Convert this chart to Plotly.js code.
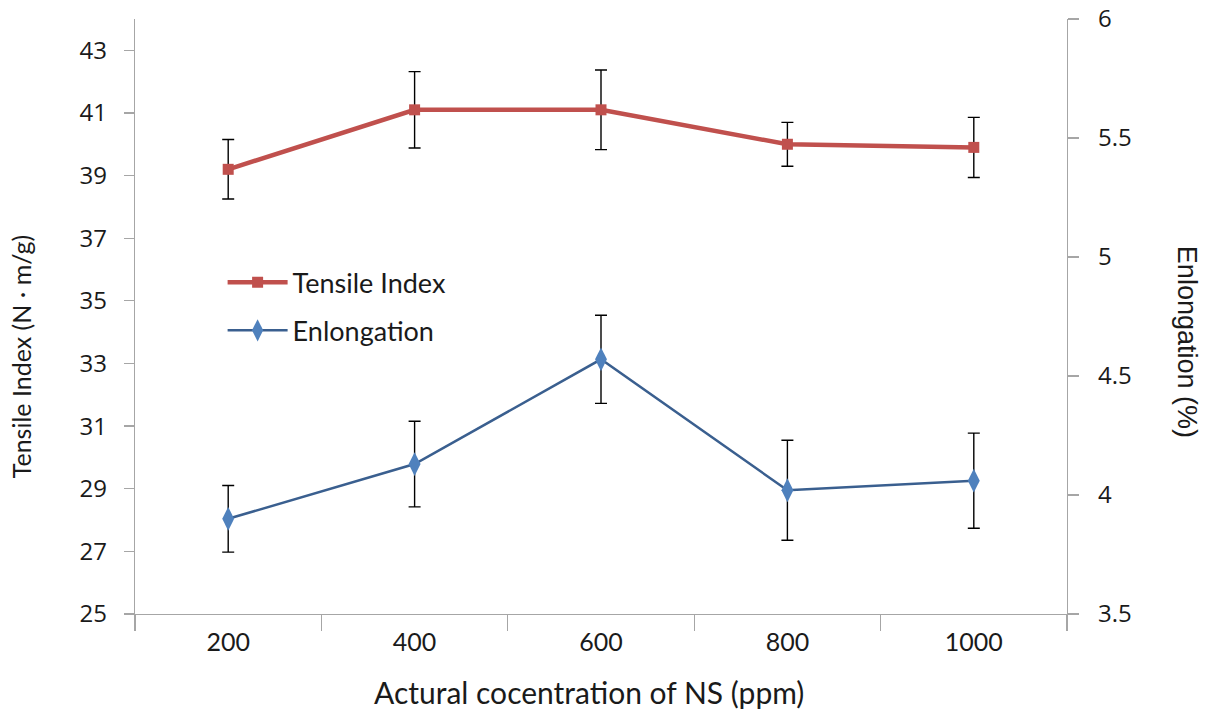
<!DOCTYPE html>
<html>
<head>
<meta charset="utf-8">
<script src="https://cdn.plot.ly/plotly-3.0.1.min.js"></script>
<style>html,body{margin:0;padding:0;background:#fff;}#chart{width:1210px;height:713px;}</style>
</head>
<body>
<div id="chart"></div>
<script>
const categories = ['200', '400', '600', '800', '1000'];
const tensileIndex = [39.2, 41.1, 41.1, 40.0, 39.9];
const tensileErr = [0.95, 1.22, 1.27, 0.70, 0.96];
const elongation = [3.90, 4.13, 4.57, 4.02, 4.06];
const elongationErr = [0.14, 0.18, 0.185, 0.21, 0.20];
const leftTicks = [25, 27, 29, 31, 33, 35, 37, 39, 41, 43];
const rightTicks = [3.5, 4, 4.5, 5, 5.5, 6];

const axisColor = '#a6a6a6';
const textColor = '#1a1a1a';

const traces = [
  {
    x: categories, y: tensileIndex, name: 'Tensile Index', type: 'scatter', mode: 'lines+markers',
    yaxis: 'y', legendgroup: 'a',
    line: {color: '#C0504D', width: 4.5},
    marker: {symbol: 'square', size: 11, color: '#C0504D'},
    error_y: {type: 'data', array: tensileErr, visible: true, color: '#000000', thickness: 1.4, width: 6}
  },
  {
    x: categories, y: elongation, name: 'Enlongation', type: 'scatter', mode: 'lines+markers',
    yaxis: 'y2', legendgroup: 'b',
    line: {color: '#3A5F8F', width: 2.5},
    marker: {symbol: 'diamond-tall', size: 17, color: '#4F81BD'},
    error_y: {type: 'data', array: elongationErr, visible: true, color: '#000000', thickness: 1.4, width: 6}
  }
];

const layout = {
  width: 1210, height: 713,
  margin: {l: 135, r: 143, t: 19, b: 99, pad: 0},
  paper_bgcolor: '#ffffff', plot_bgcolor: '#ffffff',
  showlegend: true,
  legend: {
    x: 0.094, y: 0.598, xanchor: 'left', yanchor: 'top',
    bgcolor: 'rgba(0,0,0,0)', traceorder: 'grouped', tracegroupgap: 10,
    font: {family: 'Lato, sans-serif', size: 27, color: textColor},
    itemwidth: 60
  },
  xaxis: {
    type: 'category', range: [-0.5, 4.5], tickson: 'boundaries',
    showline: true, linecolor: axisColor, linewidth: 1.3,
    ticks: 'outside', ticklen: 16, tickcolor: axisColor, tickwidth: 1.3,
    showgrid: false, zeroline: false,
    tickfont: {family: 'Lato, sans-serif', size: 25, color: textColor},
    ticklabelstandoff: 6
  },
  yaxis: {
    range: [25, 44], tickvals: leftTicks, ticktext: leftTicks.map(String),
    showline: true, linecolor: axisColor, linewidth: 1.3,
    ticks: 'outside', ticklen: 10, tickcolor: axisColor, tickwidth: 1.3,
    showgrid: false, zeroline: false,
    tickfont: {family: '"Open Sans", sans-serif', size: 24, color: textColor},
    ticklabelstandoff: 12
  },
  yaxis2: {
    range: [3.5, 6], tickvals: rightTicks, ticktext: rightTicks.map(String),
    overlaying: 'y', side: 'right',
    showline: true, linecolor: axisColor, linewidth: 1.3,
    ticks: 'outside', ticklen: 11, tickcolor: axisColor, tickwidth: 1.3,
    showgrid: false, zeroline: false,
    tickfont: {family: '"Open Sans", sans-serif', size: 24, color: textColor},
    ticklabelstandoff: 14
  },
  annotations: [
    {text: 'Tensile Index (N · m/g)', xref: 'paper', yref: 'paper', x: -0.122, y: 0.432,
     xanchor: 'center', yanchor: 'middle', textangle: -90, showarrow: false,
     font: {family: 'Lato, sans-serif', size: 25, color: textColor}},
    {text: 'Enlongation (%)', xref: 'paper', yref: 'paper', x: 1.129, y: 0.457,
     xanchor: 'center', yanchor: 'middle', textangle: 90, showarrow: false,
     font: {family: '"Liberation Sans", Arial, sans-serif', size: 27, color: textColor}},
    {text: 'Actural cocentration of NS (ppm)', xref: 'paper', yref: 'paper', x: 0.487, y: -0.131,
     xanchor: 'center', yanchor: 'middle', showarrow: false,
     font: {family: 'Lato, sans-serif', size: 30, color: textColor}}
  ]
};

Plotly.newPlot('chart', traces, layout, {displayModeBar: false, staticPlot: true});
</script>
</body>
</html>
